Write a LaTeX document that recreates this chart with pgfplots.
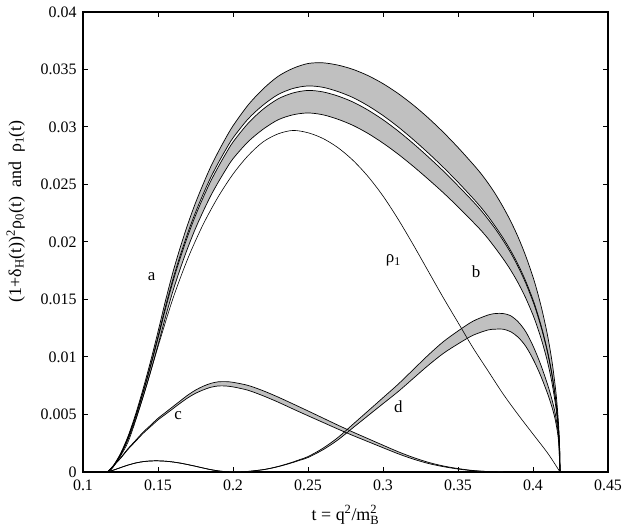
\documentclass[border=0pt]{standalone}
\usepackage{amsmath}
\usepackage{fontspec}
\setmainfont{Liberation Serif}
\usepackage{pgfplots}
\pgfplotsset{compat=1.18}
\usepgfplotslibrary{fillbetween}
\usepackage{pgfplotstable}
\definecolor{bandgray}{RGB}{192,192,192}

\pgfplotstableread{
t u1 u2 l1 l2
0.1163 0 0 0 0
0.120 0.0005 0.00048 0.00048 0.00045
0.125 0.0016 0.00154 0.00152 0.00145
0.130 0.0031 0.00299 0.00295 0.00281
0.135 0.0050 0.00483 0.00477 0.00453
0.140 0.0072 0.00695 0.00686 0.00652
0.145 0.0096 0.00926 0.00915 0.00869
0.150 0.0122 0.01177 0.01163 0.01104
0.155 0.0149 0.01438 0.01420 0.01348
0.160 0.0174 0.01679 0.01658 0.01575
0.165 0.0196 0.01891 0.01868 0.01774
0.170 0.0216 0.02084 0.02058 0.01955
0.175 0.0234 0.02258 0.02230 0.02118
0.180 0.0250 0.02413 0.02383 0.02263
0.185 0.0265 0.02557 0.02525 0.02398
0.190 0.0278 0.02683 0.02649 0.02516
0.195 0.0290 0.02799 0.02764 0.02625
0.200 0.0301 0.02905 0.02869 0.02724
0.210 0.0319 0.03069 0.03031 0.02871
0.220 0.0333 0.03190 0.03154 0.02980
0.230 0.0344 0.03282 0.03244 0.03062
0.240 0.0351 0.03335 0.03296 0.03106
0.250 0.03552 0.03357 0.03318 0.03122
0.260 0.03558 0.03345 0.03305 0.03106
0.270 0.03538 0.03308 0.03269 0.03067
0.280 0.03501 0.03256 0.03217 0.03014
0.290 0.03447 0.03185 0.03147 0.02944
0.300 0.03377 0.03100 0.03063 0.02860
0.310 0.03292 0.03002 0.02966 0.02765
0.320 0.03193 0.02893 0.02858 0.02660
0.330 0.03081 0.02776 0.02742 0.02548
0.340 0.02957 0.02652 0.02620 0.02431
0.350 0.02822 0.02520 0.02489 0.02306
0.360 0.02677 0.02380 0.02353 0.02174
0.365 0.02600 0.02306 0.02280 0.02106
0.370 0.02513 0.02224 0.02199 0.02030
0.375 0.02416 0.02133 0.02112 0.01945
0.380 0.02306 0.02036 0.02015 0.01856
0.385 0.02184 0.01928 0.01909 0.01758
0.390 0.02045 0.01806 0.01787 0.01646
0.395 0.01884 0.01664 0.01647 0.01517
0.400 0.01696 0.01498 0.01482 0.01365
0.403 0.01562 0.01379 0.01365 0.01257
0.406 0.01410 0.01245 0.01232 0.01135
0.409 0.01233 0.01089 0.01078 0.00993
0.411 0.01095 0.00967 0.00957 0.00881
0.413 0.00932 0.00823 0.00815 0.00750
0.415 0.00727 0.00642 0.00635 0.00585
0.416 0.00595 0.00525 0.00520 0.00479
0.417 0.00422 0.00373 0.00369 0.00340
0.4175 0.00299 0.00264 0.00261 0.00241
0.4178 0.00189 0.00167 0.00165 0.00152
0.418 0 0 0 0
}\bigtab

\pgfplotstableread{
t r
0.1163 0
0.120 0.0004
0.130 0.0026
0.140 0.0065
0.150 0.0109
0.160 0.0151
0.170 0.0186
0.180 0.0215
0.190 0.0239
0.200 0.0259
0.210 0.0275
0.220 0.0287
0.230 0.0294
0.240 0.0297
0.250 0.0295
0.260 0.0290
0.270 0.0282
0.280 0.0271
0.290 0.0257
0.300 0.0240
0.310 0.0220
0.320 0.0198
0.330 0.0175
0.340 0.0152
0.350 0.0130
0.360 0.0108
0.370 0.0088
0.380 0.0068
0.390 0.0050
0.400 0.0033
0.410 0.0016
0.418 0
}\rtab

\pgfplotstableread{
t top bot
0.1163 0 0
0.120 0.00051 0.00049
0.125 0.00122 0.00118
0.130 0.00203 0.00197
0.135 0.00274 0.00266
0.140 0.00345 0.00335
0.145 0.00406 0.00394
0.150 0.00467 0.00453
0.155 0.00518 0.00502
0.160 0.00569 0.00551
0.165 0.00620 0.00600
0.170 0.00670 0.00646
0.175 0.00712 0.00684
0.180 0.00745 0.00713
0.185 0.00770 0.00736
0.190 0.00784 0.00748
0.195 0.00786 0.00748
0.200 0.00780 0.00740
0.210 0.00753 0.00711
0.220 0.00707 0.00663
0.230 0.00652 0.00608
0.240 0.00592 0.00548
0.250 0.00531 0.00489
0.260 0.00469 0.00431
0.270 0.00407 0.00373
0.280 0.00347 0.00317
0.290 0.00290 0.00264
0.300 0.00233 0.00211
0.310 0.00177 0.00159
0.320 0.00127 0.00113
0.330 0.00085 0.00075
0.340 0.00053 0.00047
0.350 0.00030 0.00026
0.360 0.00013 0.00011
0.370 0.00004 0.00004
0.380 0 0
}\ctab

\pgfplotstableread{
t top bot
0.1163 0 0
0.120 0.00015 0.00015
0.125 0.00038 0.00038
0.130 0.00060 0.00060
0.135 0.00078 0.00078
0.140 0.00090 0.00090
0.145 0.00096 0.00096
0.150 0.00097 0.00097
0.155 0.00094 0.00094
0.160 0.00087 0.00087
0.165 0.00077 0.00077
0.170 0.00064 0.00064
0.175 0.00050 0.00050
0.180 0.00035 0.00035
0.185 0.00021 0.00021
0.190 0.00010 0.00010
0.195 0.00003 0.00003
0.200 0 0
0.205 0.00001 0.00001
0.210 0.00005 0.00005
0.215 0.000122 0.000118
0.220 0.000203 0.000197
0.225 0.000326 0.000314
0.230 0.000479 0.000461
0.235 0.000665 0.000635
0.240 0.000871 0.000829
0.245 0.001100 0.001040
0.250 0.001339 0.001261
0.260 0.002066 0.001934
0.270 0.003004 0.002796
0.280 0.004152 0.003848
0.290 0.005304 0.004896
0.300 0.006460 0.005940
0.310 0.007621 0.006979
0.320 0.008883 0.008118
0.330 0.010146 0.009254
0.340 0.011308 0.010292
0.350 0.012262 0.011138
0.360 0.013113 0.011888
0.370 0.013650 0.012350
0.375 0.013781 0.012420
0.380 0.013781 0.012419
0.385 0.013596 0.012204
0.390 0.013070 0.011730
0.395 0.012238 0.010962
0.400 0.010972 0.009828
0.405 0.009390 0.008410
0.410 0.007491 0.006710
0.413 0.006119 0.005481
0.415 0.004959 0.004442
0.417 0.003060 0.002741
0.418 0 0
}\dtab

\begin{document}
\begin{tikzpicture}
\begin{axis}[
  name=ax,
  scale only axis,
  width=525bp, height=460bp,
  xmin=0.1, xmax=0.45, ymin=0, ymax=0.04,
  xtick={0.1,0.15,0.2,0.25,0.3,0.35,0.4,0.45},
  ytick={0,0.005,0.01,0.015,0.02,0.025,0.03,0.035,0.04},
  scaled ticks=false,
  xticklabel style={/pgf/number format/.cd, fixed, precision=2, /tikz/.cd, yshift=-4bp},
  yticklabel style={/pgf/number format/.cd, fixed, precision=3, /tikz/.cd, xshift=-3bp},
  /pgf/number format/assume math mode=true,
  tick label style={font=\fontsize{16}{17}\selectfont},
  tick align=inside,
  major tick length=5bp,
  axis line style={line width=1.2bp},
  every tick/.style={black, line width=1bp},
  xlabel={t = q\textsuperscript{2}/$\text{m}^{\text{2}}_{\text{B}}$},
  ylabel={(1+δ\textsubscript{H}(t))\textsuperscript{2}ρ\textsubscript{0}(t)\ \ and\ \ ρ\textsubscript{1}(t)},
  label style={font=\fontsize{18}{20}\selectfont},
  xlabel style={at={(axis description cs:0.5,-0.094)}, anchor=center},
  ylabel style={at={(axis description cs:-0.128,0.567)}, anchor=center},
  every axis plot/.append style={line width=0.7bp, black},
]
% invisible named paths
\addplot[draw=none, smooth, name path=U1, forget plot] table[x=t,y=u1]{\bigtab};
\addplot[draw=none, smooth, name path=U2, forget plot] table[x=t,y=u2]{\bigtab};
\addplot[draw=none, smooth, name path=L1, forget plot] table[x=t,y=l1]{\bigtab};
\addplot[draw=none, smooth, name path=L2, forget plot] table[x=t,y=l2]{\bigtab};
\addplot[draw=none, smooth, name path=C1, forget plot] table[x=t,y=top]{\ctab};
\addplot[draw=none, smooth, name path=C2, forget plot] table[x=t,y=bot]{\ctab};
\addplot[draw=none, smooth, name path=D1, forget plot] table[x=t,y=top]{\dtab};
\addplot[draw=none, smooth, name path=D2, forget plot] table[x=t,y=bot]{\dtab};
% fills
\addplot[fill=bandgray, draw=none, forget plot] fill between[of=U1 and U2];
\addplot[fill=bandgray, draw=none, forget plot] fill between[of=L1 and L2];
\addplot[fill=bandgray, draw=none, forget plot] fill between[of=C1 and C2];
\addplot[fill=bandgray, draw=none, forget plot] fill between[of=D1 and D2];
% lines
\addplot[smooth] table[x=t,y=u1]{\bigtab};
\addplot[smooth] table[x=t,y=u2]{\bigtab};
\addplot[smooth] table[x=t,y=l1]{\bigtab};
\addplot[smooth] table[x=t,y=l2]{\bigtab};
\addplot[smooth, line width=0.6bp] table[x=t,y=r]{\rtab};
\addplot[smooth] table[x=t,y=top]{\ctab};
\addplot[smooth] table[x=t,y=bot]{\ctab};
\addplot[smooth] table[x=t,y=top]{\dtab};
\addplot[smooth] table[x=t,y=bot]{\dtab};
% labels
\node[font=\fontsize{17}{19}\selectfont] at (axis cs:0.1458,0.0170) {a};
\node[font=\fontsize{17}{19}\selectfont] at (axis cs:0.362,0.0174) {b};
\node[font=\fontsize{17}{19}\selectfont] at (axis cs:0.3069,0.0184) {ρ\textsubscript{1}};
\node[font=\fontsize{17}{19}\selectfont] at (axis cs:0.1635,0.0049) {c};
\node[font=\fontsize{17}{19}\selectfont] at (axis cs:0.3102,0.0057) {d};
\end{axis}
\pgfresetboundingbox
\path ([xshift=-83bp,yshift=-55bp]ax.south west) rectangle ([xshift=14bp,yshift=12bp]ax.north east);
\end{tikzpicture}
\end{document}
